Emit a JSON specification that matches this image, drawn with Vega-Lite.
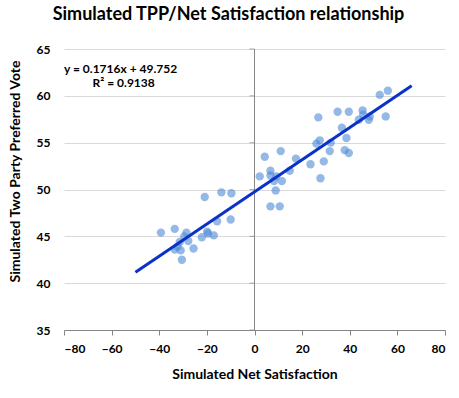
{
  "$schema": "https://vega.github.io/schema/vega-lite/v6.json",
  "width": 381,
  "height": 281,
  "autosize": "none",
  "padding": {"left": 64, "top": 49, "right": 14, "bottom": 67},
  "background": "white",
  "config": {
    "view": {"stroke": null},
    "font": "Lato",
    "axis": {"labelFont": "Lato", "titleFont": "Lato", "labelFontWeight": "bold", "titleFontWeight": "bold", "labelColor": "#000", "titleColor": "#000"}
  },
  "title": {
    "text": "Simulated TPP/Net Satisfaction relationship",
    "fontSize": 18,
    "font": "Lato",
    "fontWeight": "bold",
    "color": "#000",
    "anchor": "middle",
    "dx": -26,
    "offset": 19
  },
  "datasets": {
    "points": [
      {"sat": -39.3, "tpp": 45.4}, {"sat": -33.5, "tpp": 45.8}, {"sat": -20.9, "tpp": 49.2}, {"sat": -13.9, "tpp": 49.7},
      {"sat": -9.7, "tpp": 49.6}, {"sat": -10.0, "tpp": 46.8}, {"sat": -15.7, "tpp": 46.6}, {"sat": -19.9, "tpp": 45.5},
      {"sat": -17.1, "tpp": 45.1}, {"sat": -22.1, "tpp": 44.9}, {"sat": -28.6, "tpp": 45.4}, {"sat": -29.5, "tpp": 45.0},
      {"sat": -27.8, "tpp": 44.5}, {"sat": -31.4, "tpp": 44.4}, {"sat": -33.5, "tpp": 43.6}, {"sat": -31.0, "tpp": 43.5},
      {"sat": -32.3, "tpp": 43.9}, {"sat": -25.6, "tpp": 43.7}, {"sat": -30.5, "tpp": 42.5}, {"sat": -19.5, "tpp": 45.3},
      {"sat": 2.2, "tpp": 51.4}, {"sat": 4.3, "tpp": 53.5}, {"sat": 11.0, "tpp": 54.1}, {"sat": 6.7, "tpp": 52.0},
      {"sat": 6.7, "tpp": 51.5}, {"sat": 9.2, "tpp": 51.4}, {"sat": 8.2, "tpp": 50.9}, {"sat": 11.5, "tpp": 50.9},
      {"sat": 8.9, "tpp": 49.9}, {"sat": 6.7, "tpp": 48.2}, {"sat": 10.6, "tpp": 48.2}, {"sat": 14.8, "tpp": 52.0},
      {"sat": 17.4, "tpp": 53.3}, {"sat": 23.5, "tpp": 52.7}, {"sat": 27.7, "tpp": 51.2}, {"sat": 29.1, "tpp": 53.0},
      {"sat": 31.6, "tpp": 54.1}, {"sat": 26.0, "tpp": 54.9}, {"sat": 27.4, "tpp": 55.25}, {"sat": 32.0, "tpp": 55.0},
      {"sat": 26.8, "tpp": 57.7}, {"sat": 36.7, "tpp": 56.6}, {"sat": 38.6, "tpp": 55.5}, {"sat": 37.9, "tpp": 54.2},
      {"sat": 39.6, "tpp": 53.9}, {"sat": 34.9, "tpp": 58.3}, {"sat": 39.6, "tpp": 58.3}, {"sat": 45.4, "tpp": 58.45},
      {"sat": 45.6, "tpp": 58.0}, {"sat": 43.8, "tpp": 57.45}, {"sat": 48.4, "tpp": 57.8}, {"sat": 48.0, "tpp": 57.45},
      {"sat": 55.1, "tpp": 57.8}, {"sat": 52.6, "tpp": 60.1}, {"sat": 56.0, "tpp": 60.55}
    ],
    "trend": [
      {"sat": -50, "tpp": 41.172},
      {"sat": 66, "tpp": 61.078}
    ],
    "yaxis": [
      {"sat": 0, "tpp": 35}, {"sat": 0, "tpp": 40}, {"sat": 0, "tpp": 45}, {"sat": 0, "tpp": 50},
      {"sat": 0, "tpp": 55}, {"sat": 0, "tpp": 60}, {"sat": 0, "tpp": 65}
    ],
    "labels": [
      {"sat": -80, "tpp": 62.9, "text": "y = 0.1716x  + 49.752"},
      {"sat": -68, "tpp": 61.4, "text": "R² = 0.9138"}
    ]
  },
  "layer": [
    {
      "data": {"name": "yaxis"},
      "mark": {"type": "rule", "color": "#868686", "strokeWidth": 1},
      "encoding": {
        "x": {
          "field": "sat", "type": "quantitative",
          "scale": {"domain": [-80, 80], "nice": false},
          "axis": {"values": [-80, -60, -40, -20, 0, 20, 40, 60, 80], "title": "Simulated Net Satisfaction", "titleFontSize": 14, "labelFontSize": 12, "grid": false, "domainColor": "#868686", "tickColor": "#868686", "tickSize": 5, "labelPadding": 8, "titlePadding": 13}
        },
        "y": {
          "field": "tpp", "type": "quantitative", "aggregate": "min",
          "scale": {"domain": [35, 65], "nice": false},
          "axis": {"values": [35, 40, 45, 50, 55, 60, 65], "title": "Simulated Two Party Preferred Vote", "titleFontSize": 14, "labelFontSize": 12, "grid": true, "gridColor": "#d9d9d9", "domain": false, "ticks": false, "labelPadding": 14, "titlePadding": 14, "titleY": 122}
        },
        "y2": {"field": "tpp", "aggregate": "max"}
      }
    },
    {
      "data": {"name": "yaxis"},
      "mark": {"type": "tick", "orient": "horizontal", "color": "#868686", "size": 5, "thickness": 1, "xOffset": -2.5},
      "encoding": {
        "x": {"field": "sat", "type": "quantitative"},
        "y": {"field": "tpp", "type": "quantitative"}
      }
    },
    {
      "data": {"name": "points"},
      "mark": {"type": "circle", "size": 70, "color": "#4f8ad6", "opacity": 0.6},
      "encoding": {
        "x": {"field": "sat", "type": "quantitative"},
        "y": {"field": "tpp", "type": "quantitative"}
      }
    },
    {
      "data": {"name": "trend"},
      "mark": {"type": "line", "color": "#0a32c8", "strokeWidth": 3},
      "encoding": {
        "x": {"field": "sat", "type": "quantitative"},
        "y": {"field": "tpp", "type": "quantitative"}
      }
    },
    {
      "data": {"name": "labels"},
      "mark": {"type": "text", "align": "left", "baseline": "middle", "fontSize": 12, "fontWeight": "bold", "font": "Lato", "color": "#000"},
      "encoding": {
        "x": {"field": "sat", "type": "quantitative"},
        "y": {"field": "tpp", "type": "quantitative"},
        "text": {"field": "text"}
      }
    }
  ]
}
